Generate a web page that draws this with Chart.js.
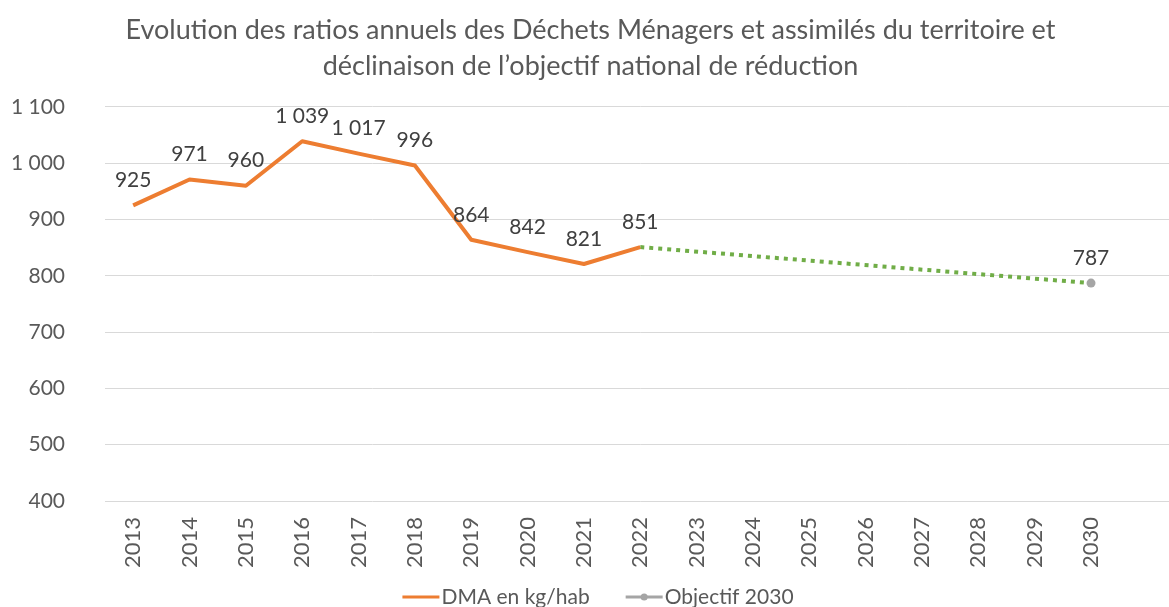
<!DOCTYPE html>
<html><head><meta charset="utf-8">
<script src="https://cdn.jsdelivr.net/npm/chart.js@4/dist/chart.umd.min.js"></script>
<style>
html,body{margin:0;padding:0;background:#fff;overflow:hidden;width:1169px;height:607px}
#wrap{position:relative;width:1190px;height:607px}
</style>
</head><body><div id="wrap"><canvas id="c" width="1190" height="607"></canvas></div>
<script>
const titleLines = ['Evolution des ratios annuels des Déchets Ménagers et assimilés du territoire et', 'déclinaison de l\u2019objectif national de réduction'];
const years = ['2013','2014','2015','2016','2017','2018','2019','2020','2021','2022','2023','2024','2025','2026','2027','2028','2029','2030'];
const dmaValues = [925, 971, 960, 1039, 1017, 996, 864, 842, 821, 851, null, null, null, null, null, null, null, null];
const objectifValues = [null, null, null, null, null, null, null, null, null, null, null, null, null, null, null, null, null, 787];
const trajectoireValues = [null, null, null, null, null, null, null, null, null, 851, null, null, null, null, null, null, null, 787];
const yMin = 400, yMax = 1100, yStep = 100;
const legendNames = ['DMA en kg/hab', 'Objectif 2030'];

const FONT = 'Lato';
function fmt(v){ v = Math.round(v); if (v >= 1000) return Math.floor(v/1000) + '\u00a0' + String(v%1000).padStart(3,'0'); return String(v); }

const labelPlugin = {
  id: 'valueLabels',
  afterDatasetsDraw(chart){
    const ctx = chart.ctx;
    ctx.save();
    ctx.font = '21px ' + FONT;
    ctx.fillStyle = '#404040';
    ctx.textAlign = 'center';
    ctx.textBaseline = 'middle';
    chart.data.datasets.forEach((ds, di) => {
      if (!ds.showValues) return;
      const meta = chart.getDatasetMeta(di);
      meta.data.forEach((pt, i) => {
        const v = ds.data[i];
        if (v == null) return;
        ctx.fillText(fmt(v), pt.x, pt.y - 25);
      });
    });
    ctx.restore();
  }
};

const legendPlugin = {
  id: 'customLegend',
  afterDraw(chart){
    const ctx = chart.ctx;
    ctx.save();
    ctx.font = '21px ' + FONT;
    ctx.textBaseline = 'middle';
    ctx.textAlign = 'left';
    const lineW = 37, gapText = 2, gapItem = 36;
    const w0 = ctx.measureText(legendNames[0]).width;
    const w1 = ctx.measureText(legendNames[1]).width;
    const total = lineW + gapText + w0 + gapItem + lineW + gapText + w1;
    let x = 598 - total/2;
    const y = 597;
    ctx.lineWidth = 3;
    ctx.strokeStyle = '#ED7D31';
    ctx.beginPath(); ctx.moveTo(x, y); ctx.lineTo(x + lineW, y); ctx.stroke();
    ctx.fillStyle = '#595959';
    ctx.fillText(legendNames[0], x + lineW + gapText, y);
    x += lineW + gapText + w0 + gapItem;
    ctx.strokeStyle = '#A5A5A5';
    ctx.beginPath(); ctx.moveTo(x, y); ctx.lineTo(x + lineW, y); ctx.stroke();
    ctx.fillStyle = '#A5A5A5';
    ctx.beginPath(); ctx.arc(x + lineW/2, y, 3.5, 0, Math.PI*2); ctx.fill();
    ctx.fillStyle = '#595959';
    ctx.fillText(legendNames[1], x + lineW + gapText, y);
    ctx.restore();
  }
};

new Chart(document.getElementById('c'), {
  type: 'line',
  data: {
    labels: years.concat(['']),
    datasets: [
      { label: legendNames[0], data: dmaValues, borderColor: '#ED7D31', backgroundColor: '#ED7D31', borderWidth: 4, pointRadius: 0, tension: 0, showValues: true, borderJoinStyle: 'round' },
      { label: legendNames[1], data: objectifValues, borderColor: '#A5A5A5', backgroundColor: '#A5A5A5', pointRadius: 4.5, pointBorderWidth: 0, showLine: false, showValues: true },
      { label: 'trajectoire', data: trajectoireValues, borderColor: '#70AD47', borderWidth: 4, borderDash: [4, 5], borderCapStyle: 'butt', pointRadius: 0, spanGaps: true }
    ]
  },
  options: {
    responsive: false,
    devicePixelRatio: 1,
    animation: false,
    layout: { padding: { left: 0, right: 9, top: 0, bottom: 0 } },
    plugins: {
      legend: { display: false },
      tooltip: { enabled: false },
      title: {
        display: true, text: titleLines, color: '#595959',
        font: { family: FONT, size: 27, weight: 'normal', lineHeight: 1.35 },
        padding: { top: 12, bottom: 22 }
      }
    },
    scales: {
      x: {
        offset: true,
        grid: { display: false, drawTicks: false, offset: true },
        border: { display: false },
        ticks: { autoSkip: false, maxRotation: 90, minRotation: 90, padding: 16, color: '#595959', font: { family: FONT, size: 22 } },
        afterFit(s){ s.height = 106; }
      },
      y: {
        min: yMin, max: yMax,
        grid: { color: '#d9d9d9', lineWidth: 1, drawTicks: false },
        border: { display: false },
        ticks: { stepSize: yStep, padding: 40, color: '#595959', font: { family: FONT, size: 21 }, callback: v => fmt(v) },
        afterFit(s){ s.width = 105; }
      }
    }
  },
  plugins: [labelPlugin, legendPlugin]
});
</script>
</body></html>
